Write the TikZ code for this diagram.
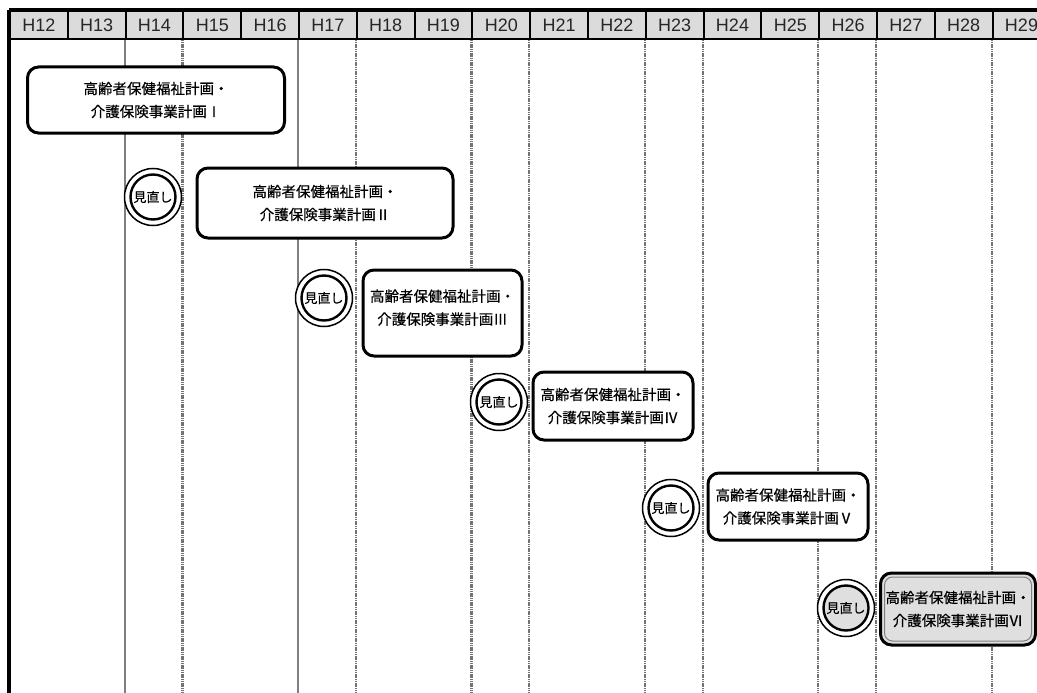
\documentclass[tikz,border=0pt]{standalone}
\usepackage{fontspec}
\setsansfont{Liberation Sans}
\newfontfamily\jpfont[FakeBold=0.3]{Noto Sans CJK JP}
\usepackage{tikz}
\newcommand{\plantext}[1]{高齢者保健福祉計画・\\介護保険事業計画#1}
\newcommand{\revtext}{見直し}

\begin{document}
\begin{tikzpicture}[x=1pt,y=-1pt,
  yearcell/.style={draw=black,line width=2,fill=gray!28,minimum width=57.8,
    minimum height=28,inner sep=0,text=black!85,font=\sffamily\fontsize{18}{18}\selectfont},
  solidrule/.style={draw=gray,line width=2},
  hatchrule/.style={draw=gray!90!black,line width=2.2,dash pattern=on 1.2 off 0.6},
  planbox/.style={draw=black,line width=3,fill=white,rounded corners=11,inner sep=1,
    align=center,font=\jpfont\fontsize{14.5}{23}\selectfont},
  revfill/.initial=white,
  revmark/.style={circle,draw=black,line width=1.5,fill=white,minimum size=57,inner sep=0,
    font=\jpfont\fontsize{13}{13}\selectfont,
    path picture={\draw[line width=2.4,fill=\pgfkeysvalueof{/tikz/revfill}]
      (path picture bounding box.center) circle (22.5);}}]
\useasboundingbox (0,0) rectangle (1037,693);
\coordinate (bot) at (0,693);
%year header
\node[yearcell] (h12) at (38.9,25) {H12};
\node[yearcell] (h13) at (96.7,25) {H13};
\node[yearcell] (h14) at (154.5,25) {H14};
\node[yearcell] (h15) at (212.3,25) {H15};
\node[yearcell] (h16) at (270.1,25) {H16};
\node[yearcell] (h17) at (327.9,25) {H17};
\node[yearcell] (h18) at (385.7,25) {H18};
\node[yearcell] (h19) at (443.5,25) {H19};
\node[yearcell] (h20) at (501.3,25) {H20};
\node[yearcell] (h21) at (559.1,25) {H21};
\node[yearcell] (h22) at (616.9,25) {H22};
\node[yearcell] (h23) at (674.7,25) {H23};
\node[yearcell] (h24) at (732.5,25) {H24};
\node[yearcell] (h25) at (790.3,25) {H25};
\node[yearcell] (h26) at (848.1,25) {H26};
\node[yearcell] (h27) at (905.9,25) {H27};
\node[yearcell] (h28) at (963.7,25) {H28};
\node[yearcell] (h29) at (1021.5,25) {H29};
\draw[line width=3] (h12.north west) -- (h29.north east);
\draw[line width=4] (h12.north west) -- (h12.north west |- bot);
%year rules
\draw[solidrule] (h14.south west) -- (h14.south west |- bot);
\draw[hatchrule] (h15.south west) -- (h15.south west |- bot);
\draw[solidrule] (h17.south west) -- (h17.south west |- bot);
\draw[hatchrule] (h18.south west) -- (h18.south west |- bot);
\draw[hatchrule] (h20.south west) -- (h20.south west |- bot);
\draw[hatchrule] (h21.south west) -- (h21.south west |- bot);
\draw[hatchrule] (h23.south west) -- (h23.south west |- bot);
\draw[hatchrule] (h24.south west) -- (h24.south west |- bot);
\draw[hatchrule] (h26.south west) -- (h26.south west |- bot);
\draw[hatchrule] (h27.south west) -- (h27.south west |- bot);
\draw[hatchrule] (h29.south west) -- (h29.south west |- bot);
%plans
\node[planbox,minimum width=257,minimum height=66] (plan1) at (156,100) {\plantext{Ⅰ}};
\node[revmark] (rev1) at (153,197) {\revtext};
\node[planbox,minimum width=256,minimum height=70] (plan2) at (325,203) {\plantext{Ⅱ}};
\node[revmark] (rev2) at (324,298) {\revtext};
\node[planbox,minimum width=159,minimum height=86] (plan3) at (442.5,313) {\plantext{Ⅲ}\\[-11pt]};
\node[revmark] (rev3) at (499,402) {\revtext};
\node[planbox,minimum width=160,minimum height=68] (plan4) at (613,406) {\plantext{Ⅳ}};
\node[revmark] (rev4) at (671,508) {\revtext};
\node[planbox,minimum width=160,minimum height=67] (plan5) at (788,506.5) {\plantext{Ⅴ}};
\node[revmark,revfill=gray!25] (rev5) at (846,608) {\revtext};
\node[planbox,fill=gray!25,minimum width=155,minimum height=72,
  path picture={\draw[gray,line width=1,rounded corners=8]
    ([shift={(4,4)}]path picture bounding box.north west) rectangle
    ([shift={(-4,-4)}]path picture bounding box.south east);}] (plan6) at (958,609) {\plantext{Ⅵ}};
\end{tikzpicture}
\end{document}
